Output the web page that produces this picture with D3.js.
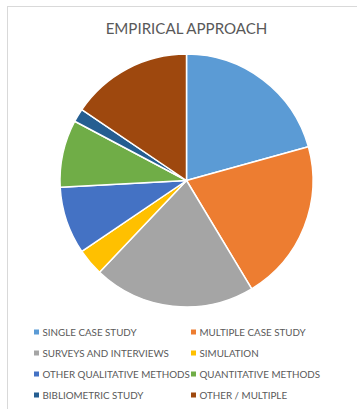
<!DOCTYPE html>
<html>
<head>
<meta charset="utf-8">
<script src="https://cdn.jsdelivr.net/npm/d3@7"></script>
<style>
  html, body { margin: 0; padding: 0; background: #fff; }
  svg { display: block; }
  text { font-family: Lato, "Open Sans", sans-serif; fill: #595959; }
</style>
</head>
<body>
<svg id="chart" width="357" height="409"></svg>
<script>
// Study counts per empirical approach
const categories = [
  "SINGLE CASE STUDY",
  "MULTIPLE CASE STUDY",
  "SURVEYS AND INTERVIEWS",
  "SIMULATION",
  "OTHER QUALITATIVE METHODS",
  "QUANTITATIVE METHODS",
  "BIBLIOMETRIC STUDY",
  "OTHER / MULTIPLE"
];
const counts = [12, 12, 12, 2, 5, 5, 1, 9];
const colors = ["#5B9BD5", "#ED7D31", "#A5A5A5", "#FFC000", "#4472C4", "#70AD47", "#255E91", "#9E480E"];
const title = "EMPIRICAL APPROACH";

const data = categories.map((c, i) => ({ name: c, value: counts[i] }));

const svg = d3.select("#chart");

// Chart frame
svg.append("rect")
  .attr("x", 7.5).attr("y", 6.5)
  .attr("width", 360).attr("height", 420)
  .attr("fill", "#fff")
  .attr("stroke", "#d9d9d9")
  .attr("stroke-width", 1);

svg.append("text")
  .attr("x", 186.5).attr("y", 33.5)
  .attr("text-anchor", "middle")
  .attr("font-size", 15.1)
  .text(title);

const color = d3.scaleOrdinal().domain(categories).range(colors);

const pie = d3.pie().value(d => d.value).sort(null);
const arc = d3.arc().innerRadius(0).outerRadius(126.5);

const g = svg.append("g").attr("transform", "translate(186.5,180.5)");
g.selectAll("path")
  .data(pie(data))
  .join("path")
  .attr("d", arc)
  .attr("fill", d => color(d.data.name))
  .attr("stroke", "#fff")
  .attr("stroke-width", 1.5)
  .attr("stroke-linejoin", "round");

// Legend in two columns
const colX = [34, 191];
const rowY0 = 332, rowStep = 21;
const legend = svg.append("g").selectAll("g")
  .data(data)
  .join("g")
  .attr("transform", (d, i) => `translate(${colX[i % 2]},${rowY0 + Math.floor(i / 2) * rowStep})`);

legend.append("rect")
  .attr("x", 0).attr("y", -2.5)
  .attr("width", 5).attr("height", 5)
  .attr("fill", d => color(d.name));

legend.append("text")
  .attr("x", 8.5).attr("y", 3.7)
  .attr("font-size", 9.8)
  .text(d => d.name);
</script>
</body>
</html>
